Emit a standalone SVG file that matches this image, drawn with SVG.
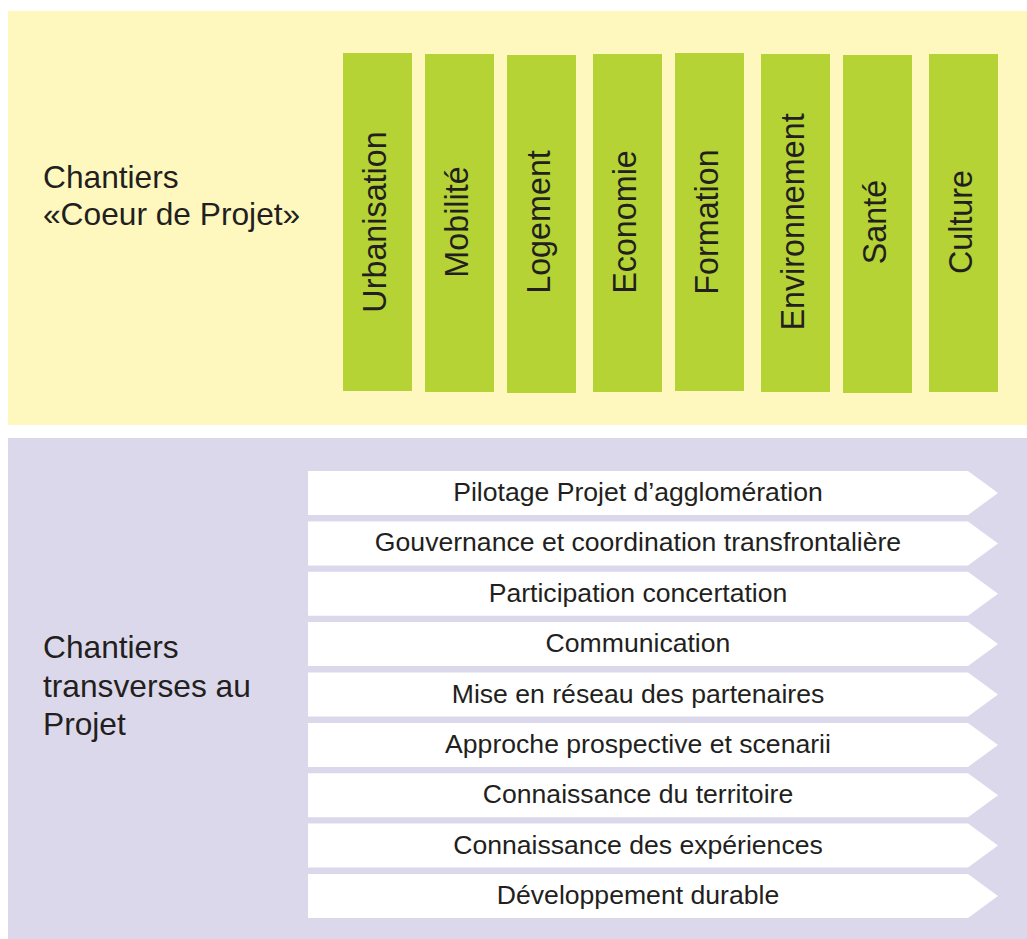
<svg xmlns="http://www.w3.org/2000/svg" width="1027" height="939" viewBox="0 0 1027 939">
<style>
text{font-family:"Liberation Sans",Arial,Helvetica,sans-serif;fill:#231f20}
.lbl{font-size:31.7px}
.bar{fill:#b5d334}
.vt{font-size:32.3px;text-anchor:middle}
.row{fill:#ffffff}
.rt{font-size:26.6px;text-anchor:middle}
</style>
<rect x="0" y="0" width="1027" height="939" fill="#ffffff"/>
<g id="panel-coeur">
<rect x="8" y="11" width="1019" height="414" fill="#fef8bf"/>
<text class="lbl" x="43" y="188">Chantiers</text>
<text class="lbl" x="43" y="225">«Coeur de Projet»</text>
</g>
<g id="panel-transverses">
<rect x="8" y="438" width="1019" height="501" fill="#dcd8eb"/>
<text class="lbl" x="43" y="658">Chantiers</text>
<text class="lbl" x="43" y="697">transverses au</text>
<text class="lbl" x="43" y="735">Projet</text>
</g>
<g id="bar-urbanisation"><rect class="bar" x="343" y="53" width="69" height="338"/><text class="vt" transform="translate(386,222) rotate(-90)">Urbanisation</text></g>
<g id="bar-mobilite"><rect class="bar" x="425" y="54" width="69" height="338"/><text class="vt" transform="translate(468,222) rotate(-90)">Mobilité</text></g>
<g id="bar-logement"><rect class="bar" x="507" y="55" width="69" height="338"/><text class="vt" transform="translate(550,222) rotate(-90)">Logement</text></g>
<g id="bar-economie"><rect class="bar" x="593" y="54" width="69" height="338"/><text class="vt" transform="translate(636,222) rotate(-90)">Economie</text></g>
<g id="bar-formation"><rect class="bar" x="675" y="53" width="69" height="338"/><text class="vt" transform="translate(718,222) rotate(-90)">Formation</text></g>
<g id="bar-environnement"><rect class="bar" x="761" y="54" width="69" height="338"/><text class="vt" transform="translate(804,222) rotate(-90)">Environnement</text></g>
<g id="bar-sante"><rect class="bar" x="843" y="55" width="69" height="338"/><text class="vt" transform="translate(886,222) rotate(-90)">Santé</text></g>
<g id="bar-culture"><rect class="bar" x="929" y="54" width="69" height="338"/><text class="vt" transform="translate(972,222) rotate(-90)">Culture</text></g>
<g id="row-1"><polygon class="row" points="308,471 968,471 998,493 968,515 308,515"/><text class="rt" x="638" y="501">Pilotage Projet d’agglomération</text></g>
<g id="row-2"><polygon class="row" points="308,521.4 968,521.4 998,543.4 968,565.4 308,565.4"/><text class="rt" x="638" y="551.4">Gouvernance et coordination transfrontalière</text></g>
<g id="row-3"><polygon class="row" points="308,571.8 968,571.8 998,593.8 968,615.8 308,615.8"/><text class="rt" x="638" y="601.8">Participation concertation</text></g>
<g id="row-4"><polygon class="row" points="308,622.1 968,622.1 998,644.1 968,666.1 308,666.1"/><text class="rt" x="638" y="652.1">Communication</text></g>
<g id="row-5"><polygon class="row" points="308,672.5 968,672.5 998,694.5 968,716.5 308,716.5"/><text class="rt" x="638" y="702.5">Mise en réseau des partenaires</text></g>
<g id="row-6"><polygon class="row" points="308,722.9 968,722.9 998,744.9 968,766.9 308,766.9"/><text class="rt" x="638" y="752.9">Approche prospective et scenarii</text></g>
<g id="row-7"><polygon class="row" points="308,773.3 968,773.3 998,795.3 968,817.3 308,817.3"/><text class="rt" x="638" y="803.3">Connaissance du territoire</text></g>
<g id="row-8"><polygon class="row" points="308,823.6 968,823.6 998,845.6 968,867.6 308,867.6"/><text class="rt" x="638" y="853.6">Connaissance des expériences</text></g>
<g id="row-9"><polygon class="row" points="308,874 968,874 998,896 968,918 308,918"/><text class="rt" x="638" y="904">Développement durable</text></g>
<g id="connectors"></g>
</svg>
